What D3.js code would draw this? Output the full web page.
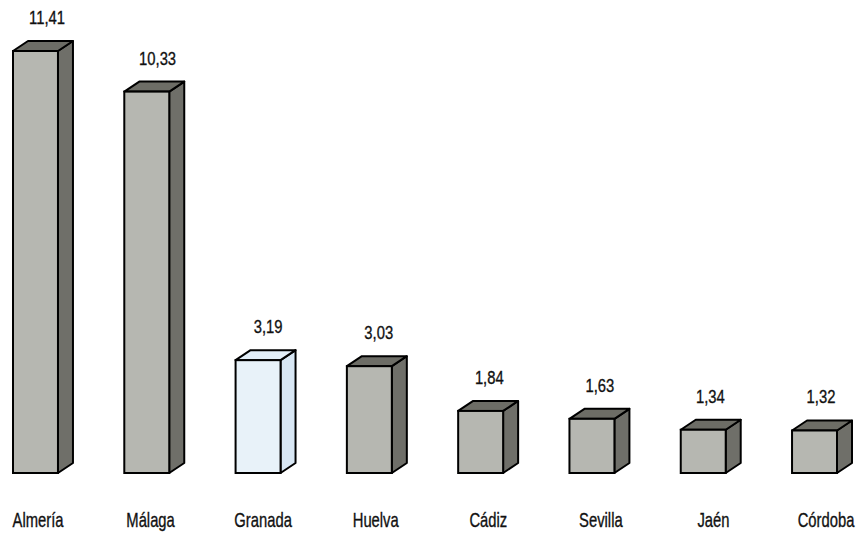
<!DOCTYPE html>
<html><head><meta charset="utf-8">
<script src="https://cdn.jsdelivr.net/npm/d3@7/dist/d3.min.js"></script>
<style>
html,body{margin:0;padding:0;background:#fff;}
svg{display:block;}
text{font-family:"Liberation Sans",Arial,sans-serif;fill:#111;stroke:#111;stroke-width:0.35px;}
</style></head>
<body>
<svg id="chart" width="859" height="534"></svg>
<script>
const categories = ["Almería","Málaga","Granada","Huelva","Cádiz","Sevilla","Jaén","Córdoba"];
const values = [11.41,10.33,3.19,3.03,1.84,1.63,1.34,1.32];
const valueLabels = ["11,41","10,33","3,19","3,03","1,84","1,63","1,34","1,32"];
const highlighted = ["Granada"];

const svg = d3.select("#chart");
const baseY = 473, dx = 15, dy = 10;

const x = d3.scaleBand().domain(categories).range([13, 837]).paddingInner(0.596).paddingOuter(0);
const y = d3.scaleLinear().domain([0.19, 11.41]).range([baseY, 51]);
const xCat = d3.scalePoint().domain(categories).range([38, 826]);
const xVal = d3.scalePoint().domain(categories).range([47, 821]);

const data = categories.map((c,i)=>({c, v:values[i], label:valueLabels[i], hi: highlighted.includes(c)}));

const g = svg.append("g");
const bars = g.selectAll("g.bar").data(data).join("g").attr("class","bar");
const w = x.bandwidth();

bars.append("path") // side
  .attr("d", d=>{const x0=x(d.c)+w, t=y(d.v); return `M${x0},${baseY}L${x0},${t}L${x0+dx},${t-dy}L${x0+dx},${baseY-dy}Z`;})
  .attr("fill", d=>d.hi?"#d8e7f4":"#6f6f69")
  .attr("stroke","#000").attr("stroke-width",2).attr("stroke-linejoin","round");
bars.append("path") // top
  .attr("d", d=>{const x0=x(d.c), t=y(d.v); return `M${x0},${t}L${x0+dx},${t-dy}L${x0+w+dx},${t-dy}L${x0+w},${t}Z`;})
  .attr("fill", d=>d.hi?"#e2eef8":"#6d6d66")
  .attr("stroke","#000").attr("stroke-width",2).attr("stroke-linejoin","round");
bars.append("rect") // front
  .attr("x", d=>x(d.c)).attr("y", d=>y(d.v)).attr("width", w).attr("height", d=>baseY-y(d.v))
  .attr("fill", d=>d.hi?"#e8f2f9":"#b6b7b1")
  .attr("stroke","#000").attr("stroke-width",2);

g.selectAll("text.val").data(data).join("text").attr("class","val")
  .attr("transform", d=>`translate(${xVal(d.c)},${y(d.v)-27}) scale(0.8,1)`)
  .attr("text-anchor","middle").attr("font-size",18.5).text(d=>d.label);

g.selectAll("text.cat").data(data).join("text").attr("class","cat")
  .attr("transform", d=>`translate(${xCat(d.c)},527) scale(0.74,1)`)
  .attr("text-anchor","middle").attr("font-size",20).text(d=>d.c);
</script>
</body></html>
